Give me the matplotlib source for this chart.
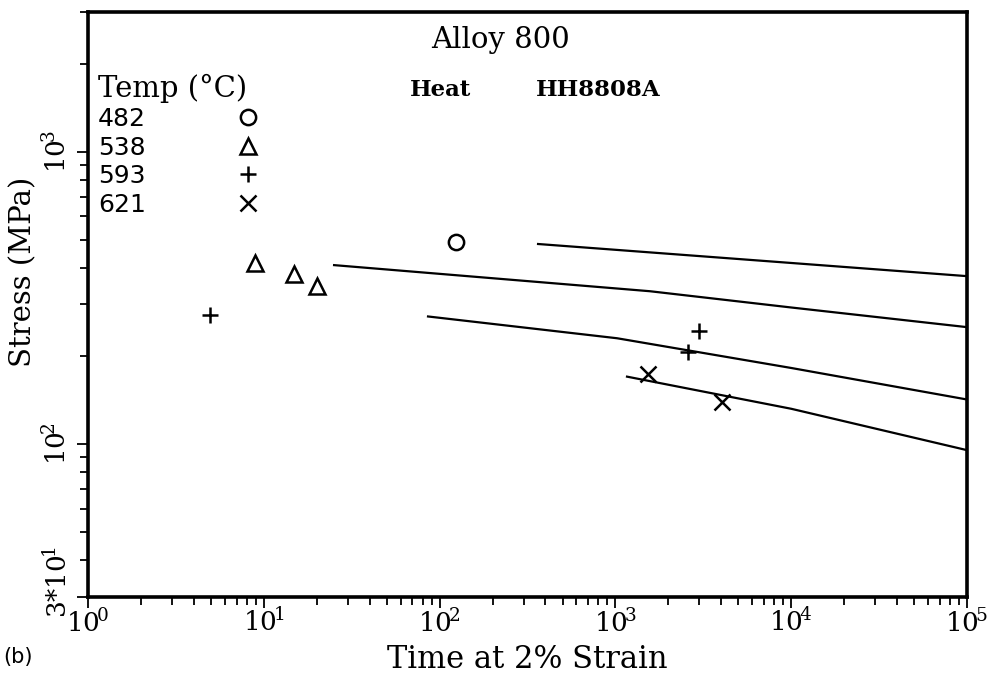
import matplotlib
matplotlib.use('Agg')
import matplotlib.pyplot as plt
from matplotlib.ticker import NullFormatter, LogLocator, FixedLocator, FixedFormatter
from matplotlib.lines import Line2D

plt.rcParams['mathtext.fontset'] = 'dejavuserif'

# ---- data ----
temps = ['482', '538', '593', '621']
markers = ['o', '^', '+', 'x']

# measured points (time h, stress MPa)
t482 = [124]
s482 = [491]
t538 = [8.9, 14.9, 20.1]
s538 = [416, 381, 347]
t593 = [4.94, 2990, 2590]
s593 = [277, 243, 207]
t621 = [1530, 4040]
s621 = [174, 139]

# fitted curves
c482_t = [363, 1e4, 1e5]
c482_s = [483, 416, 375]
c538_t = [25.1, 1573, 1e4, 1e5]
c538_s = [409, 333, 293, 251]
c593_t = [85.9, 1021, 1e4, 1e5]
c593_s = [273, 230, 182, 142]
c621_t = [1164, 1e4, 1e5]
c621_s = [170, 132, 95.3]

xticks = [1, 10, 100, 1000, 1e4, 1e5]
xticklabels = [r'$10^{\!0}$', r'$10^{\!1}$', r'$10^{\!2}$',
               r'$10^{\!3}$', r'$10^{\!4}$', r'$10^{\!5}$']
yticks = [30, 100, 1000]
yticklabels = [r'$3{*}10^{\!1}$', r'$10^{\!2}$', r'$10^{\!3}$']

serif = 'DejaVu Serif'

fig = plt.figure(figsize=(9.96, 6.75), dpi=100)
ax = fig.add_axes([0.0884, 0.1156, 0.8825, 0.8666])
ax.set_xscale('log')
ax.set_yscale('log')
ax.set_xlim(1, 1e5)
ax.set_ylim(30, 3000)

k = 'black'
mk = dict(linestyle='none', markersize=11, markeredgewidth=1.8,
          markerfacecolor='none', markeredgecolor=k)
pts = [(t482, s482), (t538, s538), (t593, s593), (t621, s621)]
handles = []
for (t, s), m, lab in zip(pts, markers, temps):
    ax.plot(t, s, marker=m, **mk)
    handles.append(Line2D([], [], marker=m, **mk))

for ct, cs in [(c482_t, c482_s), (c538_t, c538_s), (c593_t, c593_s), (c621_t, c621_s)]:
    ax.plot(ct, cs, color=k, lw=1.6)

for sp in ax.spines.values():
    sp.set_linewidth(2.6)

ax.xaxis.set_major_locator(FixedLocator(xticks))
ax.xaxis.set_major_formatter(FixedFormatter(xticklabels))
ax.xaxis.set_minor_locator(LogLocator(base=10, subs=range(2, 10), numticks=20))
ax.xaxis.set_minor_formatter(NullFormatter())
ax.yaxis.set_major_locator(FixedLocator(yticks))
ax.yaxis.set_major_formatter(FixedFormatter([''] + yticklabels[1:]))
ax.yaxis.set_minor_locator(LogLocator(base=10, subs=range(2, 10), numticks=20))
ax.yaxis.set_minor_formatter(NullFormatter())

ax.tick_params(which='major', direction='out', length=8, width=1.3, labelsize=19)
ax.tick_params(which='minor', direction='out', length=6, width=1.3)
ax.tick_params(axis='x', which='major', pad=1)
ax.tick_params(axis='y', which='major', pad=3)
for lbl in ax.get_yticklabels():
    lbl.set_rotation(90)
    lbl.set_va('center')

# bottom y tick label, drawn slightly above its tick as in the original
ax.annotate(yticklabels[0], xy=(0, yticks[0]), xycoords=('axes fraction', 'data'),
            xytext=(-11, 11), textcoords='offset points', rotation=90,
            ha='right', va='center', fontsize=19)

ax.set_xlabel('Time at 2% Strain', fontsize=22, family=serif, labelpad=4)
ax.set_ylabel('Stress (MPa)', fontsize=21, family=serif)
ax.yaxis.set_label_coords(-0.058, 0.556)

ax.text(0.469, 0.952, 'Alloy 800', transform=ax.transAxes, fontsize=21,
        family=serif, ha='center', va='center')
ax.text(0.366, 0.867, 'Heat', transform=ax.transAxes, fontsize=16.5,
        family=serif, weight='bold', ha='left', va='center')
ax.text(0.509, 0.867, 'HH8808A', transform=ax.transAxes, fontsize=16.5,
        family=serif, weight='bold', ha='left', va='center')

leg = ax.legend(handles, temps, loc='upper left', bbox_to_anchor=(0.011, 0.895),
                frameon=False, markerfirst=False, title='Temp (\u00b0C)',
                title_fontproperties={'family': serif, 'size': 21},
                prop={'family': 'DejaVu Sans', 'size': 18},
                alignment='left', handlelength=1.0, handletextpad=3.6,
                labelspacing=0.18, borderpad=0, borderaxespad=0)

fig.text(0.003, 0.027, '(b)', fontsize=15, family='DejaVu Sans', ha='left', va='center')

fig.savefig('out.png', dpi=100)
